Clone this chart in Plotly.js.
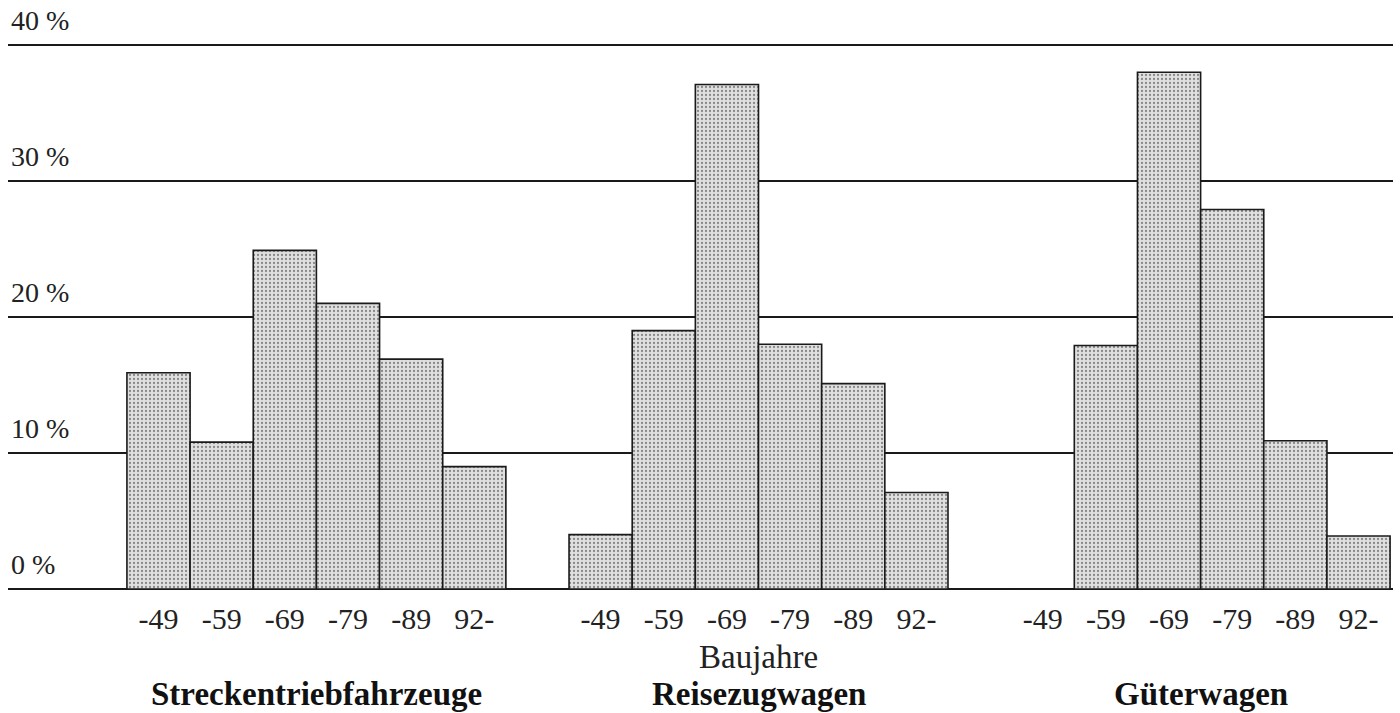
<!DOCTYPE html>
<html>
<head>
<meta charset="utf-8">
<script src="https://cdn.plot.ly/plotly-3.0.1.min.js"></script>
<style>html,body{margin:0;padding:0;background:#fff;}#chart{width:1400px;height:713px;}</style>
</head>
<body>
<div id="chart"></div>
<script>
// Data
const groups = ["Streckentriebfahrzeuge", "Reisezugwagen", "Güterwagen"];
const years = ["-49", "-59", "-69", "-79", "-89", "92-"];
const streckentriebfahrzeuge = [15.9, 10.8, 24.9, 21.0, 16.9, 9.0];
const reisezugwagen = [4.0, 19.0, 37.1, 18.0, 15.1, 7.1];
const gueterwagen = [0, 17.9, 38.0, 27.9, 10.9, 3.9];
const yTicks = [0, 10, 20, 30, 40];
const xTitle = "Baujahre";

const series = [streckentriebfahrzeuge, reisezugwagen, gueterwagen];
const slotsPerGroup = years.length + 1; // one empty slot between groups

const xs = [], ys = [], tickvals = [], ticktext = [];
series.forEach((vals, g) => {
  vals.forEach((v, i) => {
    const pos = g * slotsPerGroup + i;
    xs.push(pos); ys.push(v);
    tickvals.push(pos); ticktext.push(years[i]);
  });
});

const serif = "Liberation Serif, Times New Roman, serif";

const trace = {
  type: "bar",
  x: xs,
  y: ys,
  width: 1,
  marker: {
    color: "#dcdcdc",
    line: {color: "#1a1a1a", width: 1.6},
    pattern: {shape: ".", fgcolor: "#888888", bgcolor: "#e0e0e0", size: 4, solidity: 0.25}
  },
  hoverinfo: "x+y"
};

const annotations = groups.map((name, g) => ({
  text: "<b>" + name + "</b>",
  x: g * slotsPerGroup + (years.length - 1) / 2,
  xref: "x",
  y: -0.18,
  yref: "paper",
  yanchor: "middle",
  showarrow: false,
  font: {family: serif, size: 33, color: "#111"}
}));
annotations.push({
  text: xTitle,
  x: slotsPerGroup + (years.length - 1) / 2,
  xref: "x",
  y: -0.116,
  yref: "paper",
  yanchor: "middle",
  showarrow: false,
  font: {family: serif, size: 33, color: "#222"}
});

const layout = {
  width: 1400,
  height: 713,
  margin: {l: 8, r: 7, t: 5, b: 124, pad: 0},
  paper_bgcolor: "#ffffff",
  plot_bgcolor: "#ffffff",
  showlegend: false,
  bargap: 0,
  xaxis: {
    range: [-2.383, 19.546],
    tickvals: tickvals,
    ticktext: ticktext,
    showgrid: false,
    zeroline: false,
    showline: false,
    ticks: "",
    ticklabelstandoff: 9,
    tickfont: {family: serif, size: 30, color: "#222"},
    fixedrange: true
  },
  yaxis: {
    range: [0, 42.94],
    tickvals: yTicks,
    ticktext: yTicks.map(v => v + " %"),
    ticklabelposition: "inside top",
    ticklabelshift: -5,
    showgrid: true,
    gridcolor: "#1a1a1a",
    gridwidth: 2,
    zeroline: true,
    zerolinecolor: "#1a1a1a",
    zerolinewidth: 2,
    showline: false,
    ticks: "",
    tickfont: {family: serif, size: 28, color: "#222"},
    fixedrange: true
  },
  annotations: annotations
};

Plotly.newPlot("chart", [trace], layout, {displayModeBar: false, staticPlot: true});
</script>
</body>
</html>
